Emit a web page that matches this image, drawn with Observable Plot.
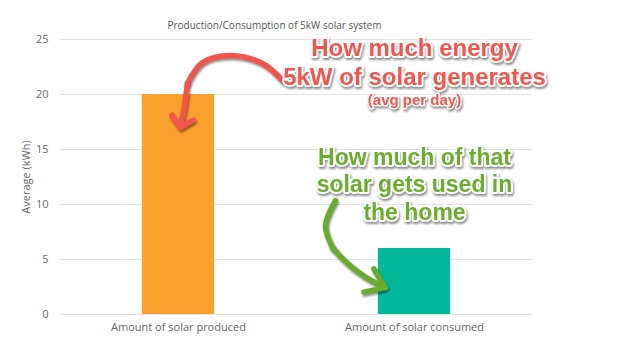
<!DOCTYPE html>
<html><head><meta charset="utf-8">
<script src="https://cdn.jsdelivr.net/npm/d3@7"></script>
<script src="https://cdn.jsdelivr.net/npm/@observablehq/plot@0.6"></script>
<style>
body{margin:0;background:#fff;}
.shadow{filter: drop-shadow(1px 2px 1px rgba(0,0,0,0.45));}
</style></head><body><div id="chart"></div>
<script>
// ---- data ----
const categories = ["Amount of solar produced", "Amount of solar consumed"];
const values = [20, 6];
const barColors = ["#FAA02C", "#00B99D"];
const yTicks = [0, 5, 10, 15, 20, 25];
const title = "Production/Consumption of 5kW solar system";
const yLabel = "Average (kWh)";

// annotation texts (anchored in data space: x = category index, y = kWh)
const redNoteLines = ["How much energy\n5kW of solar generates"];
const redNoteSub = ["(avg per day)"];
const greenNoteLines = ["How much of that\nsolar gets used in\nthe home"];

// hand-drawn annotation arrows (data space); the last point is the arrow tip
const redArrowX = [0.441, 0.356, 0.220, 0.102, 0.038, 0.008];
const redArrowY = [21.27, 22.82, 23.55, 22.91, 21.0, 17.0];
const greenArrowX = [0.665, 0.623, 0.653, 0.877];
const greenArrowY = [10.36, 8.09, 6.09, 2.45];

const bars = categories.map((c, i) => ({i, category: c, value: values[i]}));
const pts = (xs, ys) => xs.map((x, k) => ({x, y: ys[k]}));
const redArrow = pts(redArrowX, redArrowY);
const greenArrow = pts(greenArrowX, greenArrowY);
const body = p => p.slice(0, -1);
const head = p => [{x1: p[p.length - 2].x, y1: p[p.length - 2].y, x2: p[p.length - 1].x, y2: p[p.length - 1].y}];

const barHalf = 0.153;
const red = "#F4544C";
const green = "#68AE2C";

const plot = Plot.plot({
  width: 640,
  height: 362,
  marginLeft: 60,
  marginRight: 108,
  marginTop: 39,
  marginBottom: 48,
  style: {fontFamily: "Open Sans", color: "#666", background: "#fff"},
  x: {type: "linear", domain: [-0.5, 1.5], axis: null},
  y: {domain: [0, 25], axis: null},
  color: {domain: categories, range: barColors},
  marks: [
    Plot.gridY(yTicks, {stroke: "#e2e2e2", strokeOpacity: 1}),
    Plot.axisY(yTicks, {tickSize: 0, tickPadding: 12, fontSize: 11, label: yLabel, labelAnchor: "center", labelArrow: "none", labelOffset: 38}),
    Plot.axisX([0, 1], {tickSize: 0, tickPadding: 9, fontSize: 11, tickFormat: i => categories[i], label: null}),
    Plot.rectY(bars, {x1: d => d.i - barHalf, x2: d => d.i + barHalf, y: "value", fill: "category"}),
    Plot.text([title], {frameAnchor: "top-left", dx: 107, dy: -18, fontSize: 10, fill: "#555"}),
    Plot.line(body(redArrow), {x: "x", y: "y", stroke: red, strokeWidth: 5.5, curve: "catmull-rom", strokeLinecap: "round", className: "shadow"}),
    Plot.arrow(head(redArrow), {x1: "x1", y1: "y1", x2: "x2", y2: "y2", bend: 4, stroke: red, strokeWidth: 5.5, headLength: 4.2, headAngle: 95, strokeLinecap: "round", strokeLinejoin: "round", className: "shadow"}),
    Plot.line(body(greenArrow), {x: "x", y: "y", stroke: green, strokeWidth: 5.5, curve: "catmull-rom", strokeLinecap: "round", className: "shadow"}),
    Plot.arrow(head(greenArrow), {x1: "x1", y1: "y1", x2: "x2", y2: "y2", bend: -14, stroke: green, strokeWidth: 5.5, headLength: 6, headAngle: 70, strokeLinecap: "round", strokeLinejoin: "round", className: "shadow"}),
    Plot.text(redNoteLines, {x: () => 1.0, y: () => 23.05, fontSize: 24, lineHeight: 1.2, fontWeight: "bold", fontFamily: "Liberation Sans", fill: red, stroke: "white", strokeWidth: 4, className: "shadow"}),
    Plot.text(redNoteSub, {x: () => 1.0, y: () => 19.45, fontSize: 15, fontWeight: "bold", fontFamily: "Liberation Sans", fill: red, stroke: "white", strokeWidth: 3, className: "shadow"}),
    Plot.text(greenNoteLines, {x: () => 1.0, y: () => 11.9, fontSize: 23, lineHeight: 1.2, fontWeight: "bold", fontFamily: "Liberation Sans", fill: green, stroke: "white", strokeWidth: 4, className: "shadow"})
  ]
});
document.getElementById("chart").appendChild(plot);
</script>
</body></html>
